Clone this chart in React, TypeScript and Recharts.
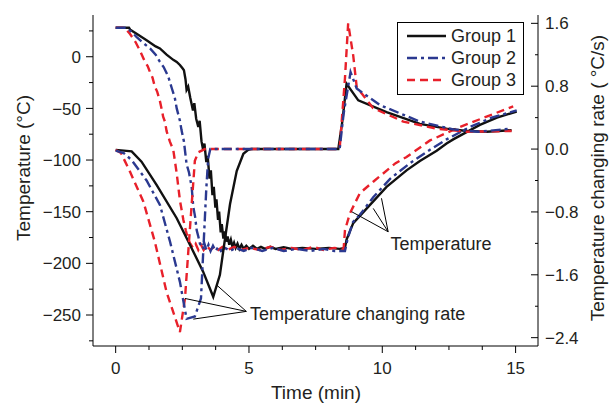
import React from 'react';
import { LineChart, Line, XAxis, YAxis, ReferenceLine, ReferenceDot, Legend } from 'recharts';

type Pt = [number, number];

// time (min), temperature (°C)
const g1Temp: Pt[] = [
  [0, 28], [0.5, 28], [0.55, 26], [0.8, 22], [1.16, 16], [1.5, 10], [1.66, 8], [1.91, 2], [2.16, -3], [2.29, -5],
  [2.41, -8], [2.5, -11], [2.56, -13], [2.62, -22], [2.66, -32], [2.72, -29], [2.8, -40], [2.9, -52], [2.95, -45],
  [3.02, -60], [3.1, -68], [3.15, -62], [3.22, -82], [3.28, -90], [3.33, -84], [3.4, -102], [3.45, -96], [3.52, -118],
  [3.57, -110], [3.63, -134], [3.68, -126], [3.74, -146], [3.78, -138], [3.84, -158], [3.88, -150], [3.94, -170],
  [3.98, -162], [4.04, -176], [4.09, -169], [4.15, -179], [4.2, -174], [4.26, -182], [4.32, -177], [4.38, -184],
  [4.44, -180], [4.5, -185], [4.57, -181], [4.64, -186], [4.72, -182], [4.8, -186], [4.9, -183], [5.0, -186],
  [5.15, -183], [5.3, -186], [5.45, -184], [5.6, -186], [5.8, -184], [6.0, -186], [6.3, -184.5], [6.6, -186],
  [7.0, -185], [7.5, -186], [8.0, -185], [8.4, -186], [8.6, -185], [8.66, -177], [8.91, -161], [9.41, -147],
  [10.16, -126], [10.91, -110], [11.41, -101], [12.04, -91], [12.41, -84], [12.66, -80], [13.66, -66], [14.3, -59],
  [15.04, -53],
];
const g2Temp: Pt[] = [
  [0, 28], [0.4, 28], [0.6, 24], [0.79, 19], [1.05, 13], [1.29, 8], [1.5, 2], [1.66, -5], [1.8, -10], [1.97, -19],
  [2.1, -30], [2.22, -40], [2.29, -50], [2.41, -62], [2.47, -71], [2.56, -82], [2.66, -104], [2.75, -112],
  [2.85, -126], [2.91, -145], [2.98, -155], [3.04, -168], [3.1, -174], [3.16, -181], [3.25, -184], [3.32, -180],
  [3.4, -187], [3.48, -182], [3.56, -188], [3.65, -183], [3.75, -188], [3.85, -184], [3.95, -188], [4.1, -185],
  [4.3, -188], [4.5, -185], [4.8, -188], [5.1, -185], [5.5, -188], [5.9, -185], [6.3, -188], [6.8, -186],
  [7.3, -188], [7.8, -186], [8.2, -188], [8.6, -188], [8.7, -176], [8.9, -160], [9.16, -153], [9.66, -136],
  [10.3, -118], [11.04, -103], [11.79, -90], [12.41, -80], [13.29, -68], [14.1, -59], [15.04, -52],
];
const g3Temp: Pt[] = [
  [0, 28], [0.35, 28], [0.54, 22], [0.75, 14], [0.91, 6], [1.1, -5], [1.2, -9], [1.29, -15], [1.38, -20],
  [1.47, -29], [1.56, -34], [1.66, -43], [1.72, -50], [1.78, -58], [1.85, -63], [1.91, -72], [2.03, -82],
  [2.16, -90], [2.29, -113], [2.41, -139], [2.54, -158], [2.63, -168], [2.72, -177], [2.8, -181], [2.9, -185],
  [3.0, -181], [3.1, -187], [3.2, -182], [3.3, -187], [3.42, -183], [3.55, -187], [3.7, -184], [3.85, -187],
  [4.0, -184], [4.2, -187], [4.45, -184], [4.7, -187], [5.0, -185], [5.4, -187], [5.8, -184], [6.2, -187],
  [6.6, -185], [7.0, -187], [7.4, -184], [7.8, -187], [8.2, -185], [8.55, -186], [8.6, -168], [8.78, -152],
  [9.16, -132], [9.66, -121], [10.5, -103], [10.91, -97], [11.79, -81], [12.91, -68], [13.91, -58], [14.91, -48],
];

// time (min), temperature changing rate (°C/s)
const g1Rate: Pt[] = [
  [0, -0.01], [0.6, -0.03], [0.97, -0.16], [1.54, -0.46], [2.29, -0.88], [2.79, -1.22], [3.28, -1.56], [3.66, -1.88],
  [3.91, -1.6], [4.03, -1.31], [4.29, -0.7], [4.54, -0.28], [4.79, -0.06], [4.97, -0.01], [5.1, 0], [8.35, 0],
  [8.5, 0.35], [8.66, 0.83], [9.1, 0.62], [10.16, 0.47], [11.41, 0.32], [12.41, 0.26], [13.16, 0.23], [13.91, 0.22],
  [14.85, 0.24],
];
const g2Rate: Pt[] = [
  [0, -0.02], [0.3, -0.05], [0.6, -0.14], [1.16, -0.4], [1.66, -0.71], [2.04, -1.18], [2.41, -1.69], [2.66, -2.16],
  [2.97, -2.13], [3.2, -1.9], [3.3, -1.2], [3.4, -0.5], [3.47, -0.12], [3.55, 0], [8.4, 0], [8.55, 0.45],
  [8.81, 0.98], [9.04, 0.77], [9.91, 0.56], [11.41, 0.35], [12.66, 0.25], [13.6, 0.22], [14.85, 0.26],
];
const g3Rate: Pt[] = [
  [0, -0.01], [0.2, -0.05], [0.54, -0.29], [1.04, -0.67], [1.47, -1.18], [1.91, -1.82], [2.41, -2.33], [2.6, -1.9],
  [2.75, -1.18], [2.82, -0.85], [2.97, -0.15], [3.1, -0.04], [3.35, 0], [8.4, 0], [8.6, 0.9], [8.72, 1.6],
  [8.91, 1.19], [9.04, 0.79], [9.66, 0.52], [10.79, 0.35], [12.04, 0.26], [13.16, 0.22], [14.85, 0.23],
];

const xTicks = [0, 1.25, 2.5, 3.75, 5, 6.25, 7.5, 8.75, 10, 11.25, 12.5, 13.75, 15];
const tempTicks = [25, 0, -25, -50, -75, -100, -125, -150, -175, -200, -225, -250, -275];
const rateTicks = [1.6, 1.2, 0.8, 0.4, 0, -0.4, -0.8, -1.2, -1.6, -2.0, -2.4];

const groups = ['Group 1', 'Group 2', 'Group 3'];

// annotation pointers (time, temperature axis)
const rateNoteHub: Pt = [4.9, -246.5];
const rateNoteTips: Pt[] = [[3.79, -221], [2.6, -234], [2.91, -254]];
const rateNoteText: Pt = [5.04, -249];
const tempNoteHub: Pt = [10.22, -169.4];
const tempNoteTips: Pt[] = [[8.85, -150], [9.66, -146.8], [9.97, -137]];
const tempNoteText: Pt = [10.31, -181.3];

const rows = (pts: Pt[]) => pts.map(([t, v]) => ({ t, v }));

const FONT = '"Liberation Sans", Arial, Helvetica, sans-serif';
const INK = '#231f20';
const styles = [
  { color: '#111111', dash: undefined as string | undefined },
  { color: '#2b3990', dash: '10 4 3 4' },
  { color: '#e8202a', dash: '8 5' },
];

const minus = (v: number, digits = 0) => (v < 0 ? '\u2212' : '') + Math.abs(v).toFixed(digits);

const LeftTick = (props: any) => {
  const { x, y, payload } = props;
  const v = payload.value;
  const major = Math.abs(v % 50) < 1e-6;
  return (
    <g>
      <line x1={x} y1={y} x2={x - (major ? 7 : 4)} y2={y} stroke="#000" />
      {major && (
        <text x={x - 12} y={y} dy="0.36em" textAnchor="end" fontSize={17} fill={INK} fontFamily={FONT}>
          {minus(v)}
        </text>
      )}
    </g>
  );
};

const RightTick = (props: any) => {
  const { x, y, payload } = props;
  const v = payload.value;
  const q = v / 0.8;
  const major = Math.abs(q - Math.round(q)) < 1e-6;
  return (
    <g>
      <line x1={x} y1={y} x2={x - (major ? 7 : 3)} y2={y} stroke="#000" />
      {major && (
        <text x={x + 7} y={y} dy="0.36em" textAnchor="start" fontSize={17} fill={INK} fontFamily={FONT}>
          {minus(v, 1)}
        </text>
      )}
    </g>
  );
};

const BottomTick = (props: any) => {
  const { x, y, payload } = props;
  const v = payload.value;
  const major = Math.abs(v % 5) < 1e-6;
  return (
    <g>
      <line x1={x} y1={y} x2={x} y2={y + (major ? 7 : 4)} stroke="#000" />
      {major && (
        <text x={x} y={y + 22} dy="0.36em" textAnchor="middle" fontSize={17} fill={INK} fontFamily={FONT}>
          {v}
        </text>
      )}
    </g>
  );
};

const title = (x: number, y: number, angle: number, text: string) => ({
  content: () => (
    <text
      x={x}
      y={y}
      transform={`rotate(${angle} ${x} ${y})`}
      textAnchor="middle"
      dominantBaseline="central"
      fontSize={19}
      fill={INK}
      fontFamily={FONT}
    >
      {text}
    </text>
  ),
});

const LegendBox = () => (
  <div
    style={{
      border: '1px solid #000',
      background: '#fff',
      padding: '2px 0 0 8px',
      width: 127,
      height: 73,
      boxSizing: 'border-box',
      fontFamily: FONT,
      color: INK,
    }}
  >
    {groups.map((g, i) => (
      <div key={g} style={{ display: 'flex', alignItems: 'center', height: 22 }}>
        <svg width={42} height={10}>
          <line x1={1} y1={5} x2={40} y2={5} stroke={styles[i].color} strokeWidth={2.4} strokeDasharray={styles[i].dash} />
        </svg>
        <span style={{ marginLeft: 3, fontSize: 18, lineHeight: '22px' }}>{g}</span>
      </div>
    ))}
  </div>
);

const noteLabel = (text: string) => ({
  value: text,
  position: 'right' as const,
  offset: 0,
  fontSize: 18,
  fill: INK,
  fontFamily: FONT,
});

export default function App() {
  const temps = [g1Temp, g2Temp, g3Temp];
  const rates = [g1Rate, g2Rate, g3Rate];
  const order = [0, 2, 1];
  return (
    <div style={{ position: 'absolute', left: 0, top: 0, background: '#fff' }}>
      <LineChart width={614} height={403} margin={{ top: 15, right: 0, bottom: 0, left: 0 }}>
        <XAxis
          dataKey="t"
          type="number"
          domain={[-0.85, 15.84]}
          ticks={xTicks}
          allowDataOverflow
          height={57}
          tickSize={0}
          tickMargin={0}
          tickLine={false}
          axisLine={{ stroke: '#000' }}
          tick={<BottomTick />}
          interval={0}
          label={title(316, 392, 0, 'Time (min)')}
        />
        <XAxis
          xAxisId="top"
          orientation="top"
          dataKey="t"
          type="number"
          domain={[-0.85, 15.84]}
          height={0}
          tick={false}
          tickLine={false}
          axisLine={{ stroke: '#000' }}
        />
        <YAxis
          yAxisId="temp"
          type="number"
          domain={[-280, 40.4]}
          ticks={tempTicks}
          allowDataOverflow
          width={93}
          tickSize={0}
          tickMargin={0}
          tickLine={false}
          axisLine={{ stroke: '#000' }}
          tick={<LeftTick />}
          interval={0}
          label={title(23, 168, -90, 'Temperature (°C)')}
        />
        <YAxis
          yAxisId="rate"
          orientation="right"
          type="number"
          domain={[-2.506, 1.706]}
          ticks={rateTicks}
          allowDataOverflow
          width={76}
          tickSize={0}
          tickMargin={0}
          tickLine={false}
          axisLine={{ stroke: '#000' }}
          tick={<RightTick />}
          interval={0}
          label={title(597, 178, -90, 'Temperature changing rate ( °C/s)')}
        />
        {order.map((i) => (
          <Line
            key={`temp${i}`}
            yAxisId="temp"
            data={rows(temps[i])}
            dataKey="v"
            type="linear"
            stroke={styles[i].color}
            strokeWidth={2.4}
            strokeDasharray={styles[i].dash}
            dot={false}
            activeDot={false}
            isAnimationActive={false}
            legendType="none"
          />
        ))}
        {order.map((i) => (
          <Line
            key={`rate${i}`}
            yAxisId="rate"
            data={rows(rates[i])}
            dataKey="v"
            type="linear"
            stroke={styles[i].color}
            strokeWidth={2.4}
            strokeDasharray={styles[i].dash}
            dot={false}
            activeDot={false}
            isAnimationActive={false}
            legendType="none"
          />
        ))}
        {rateNoteTips.map(([t, v], k) => (
          <ReferenceLine
            key={`rn${k}`}
            yAxisId="temp"
            segment={[{ x: rateNoteHub[0], y: rateNoteHub[1] }, { x: t, y: v }]}
            stroke="#000"
            strokeWidth={1}
            ifOverflow="visible"
          />
        ))}
        {tempNoteTips.map(([t, v], k) => (
          <ReferenceLine
            key={`tn${k}`}
            yAxisId="temp"
            segment={[{ x: tempNoteHub[0], y: tempNoteHub[1] }, { x: t, y: v }]}
            stroke="#000"
            strokeWidth={1}
            ifOverflow="visible"
          />
        ))}
        <ReferenceDot
          yAxisId="temp"
          x={rateNoteText[0]}
          y={rateNoteText[1]}
          r={0}
          fill="none"
          stroke="none"
          label={noteLabel('Temperature changing rate')}
        />
        <ReferenceDot
          yAxisId="temp"
          x={tempNoteText[0]}
          y={tempNoteText[1]}
          r={0}
          fill="none"
          stroke="none"
          label={noteLabel('Temperature')}
        />
        <Legend
          layout="vertical"
          align="center"
          verticalAlign="middle"
          content={() => <LegendBox />}
          wrapperStyle={{ left: 397, top: 22, width: 127, height: 73 }}
        />
      </LineChart>
    </div>
  );
}
